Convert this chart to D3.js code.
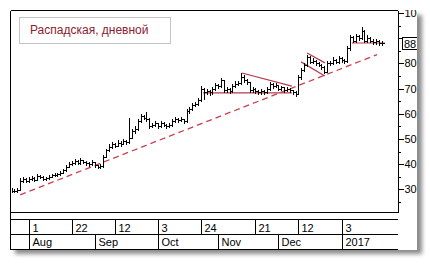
<!DOCTYPE html>
<html>
<head>
<meta charset="utf-8">
<script src="https://cdn.jsdelivr.net/npm/d3@7"></script>
<style>
body { margin: 0; background: #fff; }
svg { display: block; }
text { font-family: Arial, "Liberation Sans", sans-serif; }
</style>
</head>
<body>
<div id="chart"></div>
<script>
// daily bars
const closes = [29.5,29.2,29.8,33.5,34.0,33.2,34.0,34.5,33.8,35.3,
  35.0,34.2,34.5,35.0,35.5,35.8,36.0,36.6,37.5,39.0,
  40.2,40.6,41.2,40.5,41.5,40.8,40.4,40.0,41.0,39.6,
  39.0,39.3,43.0,45.6,47.0,48.0,47.4,48.5,48.0,49.2,
  48.6,50.5,53.0,54.0,57.0,59.0,58.5,58.0,55.0,55.6,
  56.2,55.0,56.5,55.5,55.0,55.5,57.0,58.0,57.5,57.8,
  57.0,61.0,62.0,63.5,64.0,65.5,70.0,68.6,69.0,68.5,
  70.0,71.4,71.0,73.4,69.4,70.0,69.0,71.0,72.0,72.2,
  74.6,73.4,72.5,69.4,70.0,69.0,68.6,69.0,68.5,70.0,
  72.0,71.0,71.5,70.0,70.5,69.5,70.0,69.4,68.5,68.0,
  74.6,77.4,79.4,82.5,80.5,81.0,80.0,79.4,78.5,76.6,
  80.0,80.0,81.5,80.5,82.0,81.3,80.8,86.0,90.5,89.0,
  91.0,90.0,93.0,89.0,90.0,89.0,88.5,89.0,88.0,88.0]
const highs = [30.5,30.0,30.4,34.6,35.0,34.4,34.8,35.4,34.8,36.0,
  35.8,35.2,35.0,35.6,36.2,36.4,36.6,37.2,38.2,39.6,
  41.0,41.4,42.2,41.6,42.4,41.8,41.2,40.8,41.6,41.0,
  39.8,40.0,43.8,46.2,47.8,48.8,48.4,49.6,49.0,50.0,
  49.6,58.3,53.8,55.0,57.8,59.8,59.6,60.7,58.2,56.4,
  57.0,56.4,57.2,56.8,55.8,56.2,57.8,58.8,58.4,58.6,
  58.0,61.8,62.8,64.2,64.8,66.2,71.0,70.4,70.0,69.6,
  70.8,72.2,72.0,74.2,73.6,70.8,70.4,71.8,73.0,73.2,
  76.0,75.2,73.8,72.6,70.8,70.2,69.6,69.8,69.4,70.8,
  72.8,72.2,72.2,71.6,71.2,70.6,70.8,70.4,69.6,69.0,
  75.4,78.2,80.2,83.4,82.8,82.0,81.4,80.6,79.8,78.8,
  80.8,81.0,82.4,81.8,82.8,82.4,81.8,86.8,91.4,90.8,
  91.8,91.4,94.4,93.2,91.2,90.4,89.6,89.8,89.4,88.8]
const lows = [29.0,28.8,29.0,29.6,33.0,32.8,33.0,33.8,33.4,33.6,
  34.4,33.8,33.9,34.2,34.8,35.2,35.3,35.8,36.4,37.2,
  38.8,39.8,40.2,40.0,40.2,40.3,39.8,39.4,39.8,39.0,
  38.4,38.6,39.0,42.8,45.2,46.6,46.8,47.2,47.4,47.8,
  48.0,48.4,50.2,52.4,53.6,56.6,57.8,57.2,54.4,54.6,
  55.2,54.4,54.8,55.0,54.4,54.6,55.2,56.6,56.8,57.0,
  56.4,56.8,60.4,61.6,63.0,63.6,65.0,66.0,67.8,67.6,
  68.0,69.6,70.2,70.6,68.8,68.8,68.4,68.8,70.6,71.4,
  71.8,72.8,71.8,68.8,68.8,68.4,68.0,68.0,67.8,68.2,
  69.6,70.4,70.6,69.4,69.6,68.8,69.0,68.6,67.8,67.0,
  67.8,74.0,76.8,79.0,80.0,80.0,79.4,78.8,77.8,76.0,
  76.4,79.2,79.6,80.0,80.2,80.6,80.0,80.4,85.4,88.4,
  88.6,89.4,89.6,88.4,88.6,88.4,87.8,87.8,87.4,87.4]

// drawn lines, [bar index, price] pairs
const supportLine = [[3, 27.8], [127.4, 83.5]]
const triangleTop = [[80.3, 76.2], [97.7, 71.0]]
const triangleBase = [[66.7, 68.3], [97.7, 68.3]]
const flagTop = [[103, 84.1], [109.2, 80.2]]
const flagBottom = [[100.9, 80.6], [109.2, 75.0]]
const lastLevel = [[118.6, 88.1], [130.1, 88.1]]

// axis labels (90 sits under the last price box)
const priceTicks = [30, 40, 50, 60, 70, 80, 90, 100]
const priceMinor = [25, 35, 45, 55, 65, 75, 85, 95]
const dayTicks = [6, 21, 36, 51, 66, 85, 100, 115]
const dayLabels = ["1", "22", "12", "3", "24", "21", "12", "3"]
const monthTicks = [6, 29, 51, 72, 93, 115]
const monthLabels = ["Aug", "Sep", "Oct", "Nov", "Dec", "2017"]

const w = 430, h = 264
const leftX = 10, topY = 10, plotRight = 397, plotBottom = 212, panelRight = 417, panelBottom = 249

const svg = d3.select("#chart").append("svg")
    .attr("width", w)
    .attr("height", h)

const defs = svg.append("defs")
defs.append("filter").attr("id", "blur")
    .attr("x", "-5%").attr("y", "-5%").attr("width", "110%").attr("height", "110%")
    .append("feGaussianBlur").attr("stdDeviation", 2)
defs.append("clipPath").attr("id", "panelClip")
    .append("rect").attr("x", leftX).attr("y", topY)
    .attr("width", panelRight - leftX).attr("height", panelBottom - topY + 1)
defs.append("clipPath").attr("id", "plotClip")
    .append("rect").attr("x", leftX + 1).attr("y", topY + 1)
    .attr("width", plotRight - leftX - 1).attr("height", plotBottom - topY - 1)

// drop shadow and panel
svg.append("rect")
    .attr("x", leftX + 5).attr("y", topY + 5)
    .attr("width", panelRight - leftX).attr("height", panelBottom - topY)
    .attr("fill", "#8a8a8a")
    .attr("filter", "url(#blur)")
svg.append("rect")
    .attr("x", leftX).attr("y", topY)
    .attr("width", panelRight - leftX).attr("height", panelBottom - topY + 1)
    .attr("fill", "#fff")

const g = svg.append("g").attr("clip-path", "url(#panelClip)")

const x = d3.scaleLinear().domain([0, 129]).range([11.5, 381.7])
const y = d3.scaleLinear().domain([21, 101.2]).range([plotBottom, topY])
const px = v => Math.round(v) + 0.5
const last = closes[closes.length - 1]

// frame lines
const frame = [
    [leftX, topY, leftX, panelBottom],
    [leftX, topY, plotRight, topY],
    [leftX, plotBottom, plotRight, plotBottom],
    [leftX, 219, plotRight, 219],
    [leftX, 234, plotRight, 234],
    [leftX, panelBottom, plotRight, panelBottom]
]
g.selectAll(".frame").data(frame).enter().append("line")
    .attr("x1", d => px(d[0])).attr("y1", d => px(d[1]))
    .attr("x2", d => px(d[2])).attr("y2", d => px(d[3]))
    .attr("stroke", "#000").attr("shape-rendering", "crispEdges")

// price axis on the right
const yAxis = g.append("g")
    .attr("transform", "translate(" + px(plotRight) + ",0)")
    .call(d3.axisRight(y).tickValues(priceTicks).tickSize(6).tickSizeOuter(0).tickPadding(1))
yAxis.selectAll("text").attr("font-size", "11px").attr("fill", "#000")
    .attr("font-family", "Arial, 'Liberation Sans', sans-serif")
// the label hidden by the last price box
yAxis.selectAll(".tick").filter(d => Math.abs(y(d) - y(last)) < 10).select("text").remove()
yAxis.selectAll("line, path").attr("stroke", "#000").attr("shape-rendering", "crispEdges")
g.append("g")
    .attr("transform", "translate(" + px(plotRight) + ",0)")
    .call(d3.axisRight(y).tickValues(priceMinor).tickSize(3).tickFormat(""))
    .call(a => a.select(".domain").remove())
    .selectAll("line").attr("stroke", "#000").attr("shape-rendering", "crispEdges")

// last price box
g.append("rect")
    .attr("x", 402.5).attr("y", Math.round(y(last)) - 5.5)
    .attr("width", 15).attr("height", 12)
    .attr("fill", "#fff").attr("stroke", "#000")
g.append("text")
    .attr("x", 404).attr("y", Math.round(y(last)) + 4.5)
    .attr("font-size", "11px")
    .text(last.toFixed(0))

// date rows
g.selectAll(".daySep").data(dayTicks).enter().append("line")
    .attr("x1", d => px(x(d))).attr("x2", d => px(x(d)))
    .attr("y1", 219).attr("y2", 234)
    .attr("stroke", "#000").attr("shape-rendering", "crispEdges")
g.selectAll(".dayLabel").data(dayTicks).enter().append("text")
    .attr("x", d => px(x(d)) + 3).attr("y", 231.5)
    .attr("font-size", "11px")
    .text((d, i) => dayLabels[i])
g.selectAll(".monthSep").data(monthTicks).enter().append("line")
    .attr("x1", d => px(x(d))).attr("x2", d => px(x(d)))
    .attr("y1", 234).attr("y2", panelBottom)
    .attr("stroke", "#000").attr("shape-rendering", "crispEdges")
g.selectAll(".monthLabel").data(monthTicks).enter().append("text")
    .attr("x", d => px(x(d)) + 3).attr("y", 246)
    .attr("font-size", "11px")
    .text((d, i) => monthLabels[i])

// plot area
const plot = g.append("g").attr("clip-path", "url(#plotClip)")

const drawn = [triangleTop, triangleBase, flagTop, flagBottom, lastLevel]
plot.selectAll(".pattern").data(drawn).enter().append("line")
    .attr("x1", d => x(d[0][0])).attr("y1", d => y(d[0][1]))
    .attr("x2", d => x(d[1][0])).attr("y2", d => y(d[1][1]))
    .attr("stroke", "#b83a4a").attr("stroke-width", 1.2)

plot.append("line")
    .attr("x1", x(supportLine[0][0])).attr("y1", y(supportLine[0][1]))
    .attr("x2", x(supportLine[1][0])).attr("y2", y(supportLine[1][1]))
    .attr("stroke", "#c8404e").attr("stroke-width", 1.3)
    .attr("stroke-dasharray", "6,4")

const bars = plot.selectAll(".bar").data(closes).enter().append("g")
bars.append("line")
    .attr("x1", (d, i) => px(x(i))).attr("x2", (d, i) => px(x(i)))
    .attr("y1", (d, i) => Math.round(y(highs[i]))).attr("y2", (d, i) => Math.round(y(lows[i])) + 1)
    .attr("stroke", "#000").attr("shape-rendering", "crispEdges")
bars.append("line")
    .attr("x1", (d, i) => px(x(i))).attr("x2", (d, i) => px(x(i)) + 2)
    .attr("y1", d => px(y(d))).attr("y2", d => px(y(d)))
    .attr("stroke", "#000").attr("shape-rendering", "crispEdges")

// title box
g.append("rect")
    .attr("x", 19.5).attr("y", 17.5)
    .attr("width", 151).attr("height", 26)
    .attr("fill", "#fff").attr("stroke", "#c4c4c4")
g.append("text")
    .attr("x", 30).attr("y", 34)
    .attr("font-size", "12px")
    .attr("fill", "#8c2030")
    .text("Распадская, дневной")
</script>
</body>
</html>
